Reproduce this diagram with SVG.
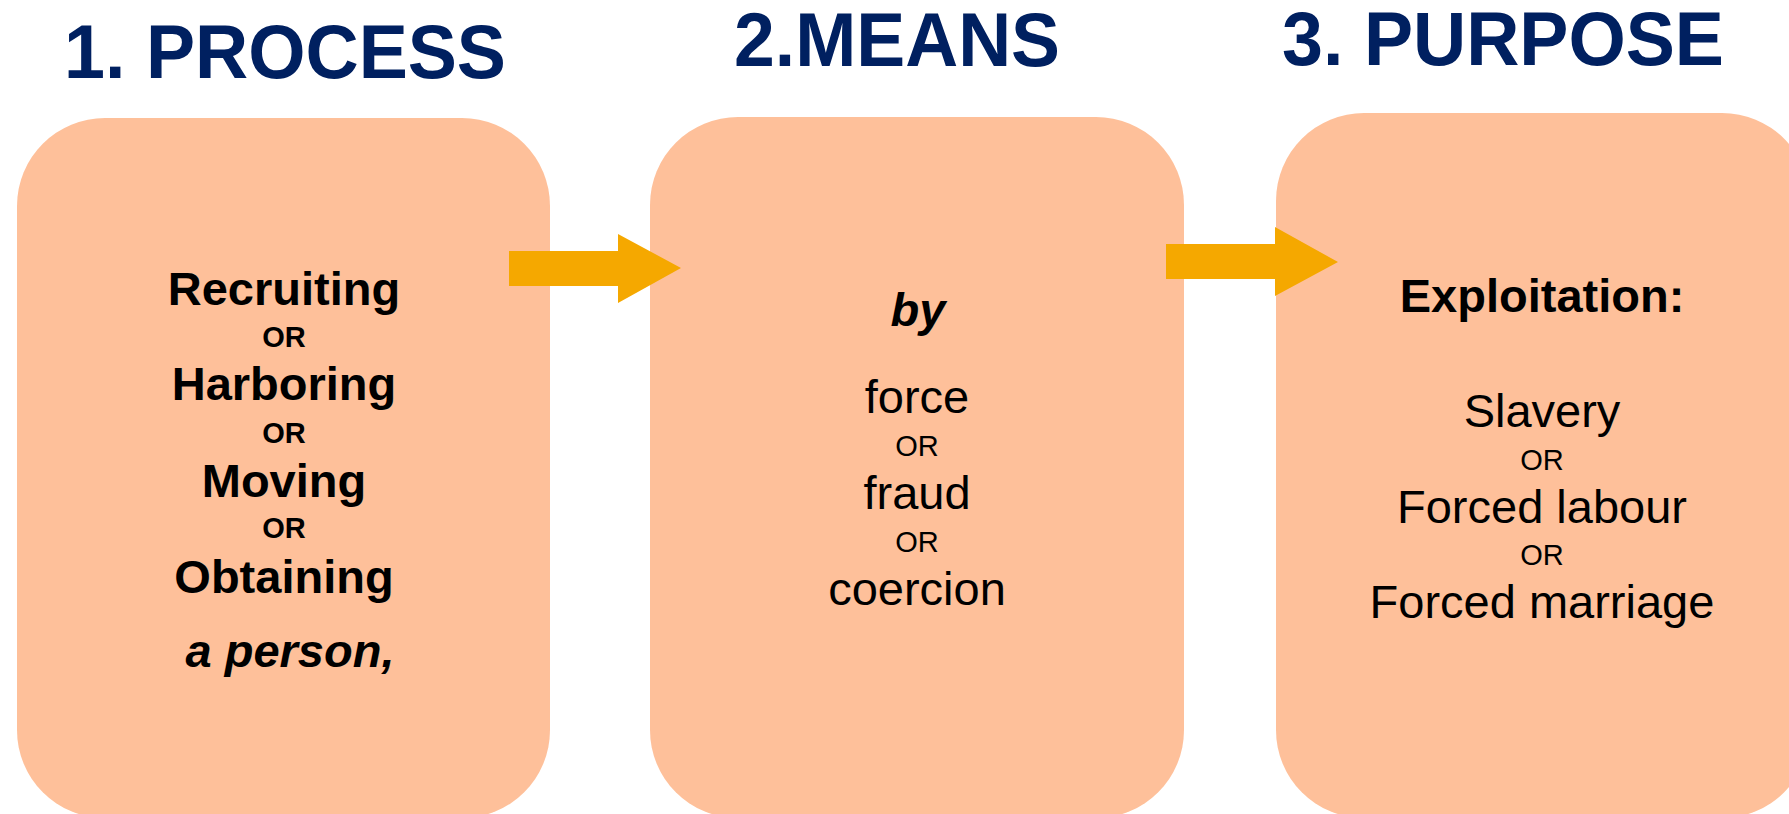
<svg xmlns="http://www.w3.org/2000/svg" width="1789" height="814" viewBox="0 0 1789 814">
<style>
.title{font-family:"Liberation Sans",Arial,sans-serif;font-weight:bold;font-size:76px;fill:#002060}
.box{fill:#FEC09A}
.t{font-family:"Liberation Sans",Arial,sans-serif;fill:#000;text-anchor:middle}
.big{font-size:47px}
.b{font-weight:bold}
.i{font-style:italic}
.or{font-size:29px}
.arrow{fill:#F5A800}
</style>
<rect width="1789" height="814" fill="#fff"/>
<g id="titles">
<text class="title" x="64" y="78" textLength="442" lengthAdjust="spacingAndGlyphs">1. PROCESS</text>
<text class="title" x="734" y="66" textLength="326" lengthAdjust="spacingAndGlyphs">2.MEANS</text>
<text class="title" x="1282" y="65" textLength="442" lengthAdjust="spacingAndGlyphs">3. PURPOSE</text>
</g>
<g id="process">
<rect class="box" x="17" y="118" width="533" height="700" rx="88" ry="88"/>
<text class="t big b" x="284" y="305">Recruiting</text>
<text class="t or b" x="284" y="347">OR</text>
<text class="t big b" x="284" y="400">Harboring</text>
<text class="t or b" x="284" y="443">OR</text>
<text class="t big b" x="284" y="497">Moving</text>
<text class="t or b" x="284" y="538">OR</text>
<text class="t big b" x="284" y="593">Obtaining</text>
<text class="t big b i" x="290" y="667">a person,</text>
</g>
<g id="means">
<rect class="box" x="650" y="117" width="534" height="701" rx="88" ry="88"/>
<text class="t big b i" x="918" y="326">by</text>
<text class="t big" x="917" y="413">force</text>
<text class="t or" x="917" y="456">OR</text>
<text class="t big" x="917" y="509">fraud</text>
<text class="t or" x="917" y="552">OR</text>
<text class="t big" x="917" y="605">coercion</text>
</g>
<g id="purpose">
<rect class="box" x="1276" y="113" width="534" height="705" rx="88" ry="88"/>
<text class="t big b" x="1542" y="312">Exploitation:</text>
<text class="t big" x="1542" y="427">Slavery</text>
<text class="t or" x="1542" y="470">OR</text>
<text class="t big" x="1542" y="523">Forced labour</text>
<text class="t or" x="1542" y="565">OR</text>
<text class="t big" x="1542" y="618">Forced marriage</text>
</g>
<g id="connectors">
<polygon class="arrow" points="509,251 618,251 618,234 681,268 618,303 618,286 509,286"/>
<polygon class="arrow" points="1166,244 1275,244 1275,227 1338,262 1275,296 1275,279 1166,279"/>
</g>
</svg>
